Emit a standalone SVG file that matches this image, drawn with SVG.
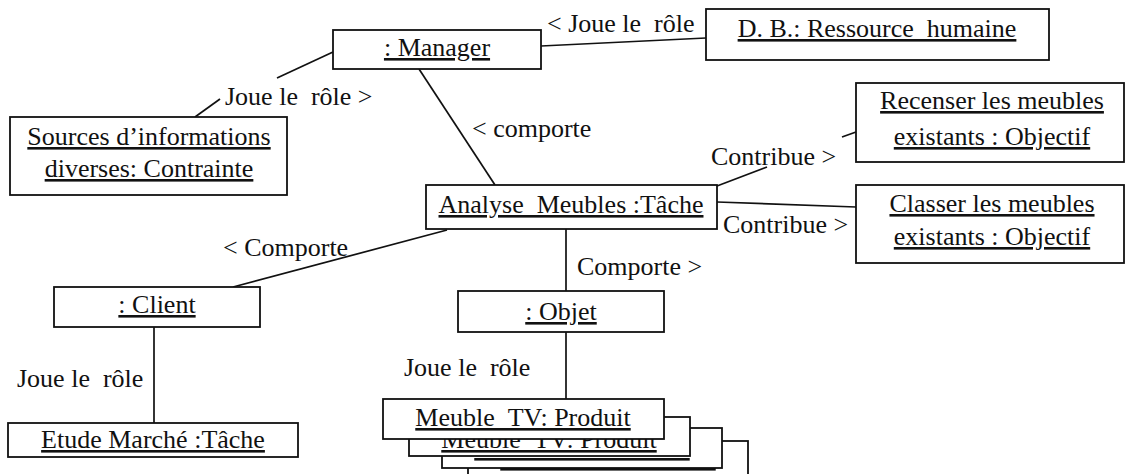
<svg xmlns="http://www.w3.org/2000/svg" width="1129" height="474" viewBox="0 0 1129 474">
<style>
  .box { fill: #fff; stroke: #111; stroke-width: 1.8; }
  .t { font-family: "Liberation Serif", "Times New Roman", serif; font-size: 26px; fill: #111; }
  .n { text-anchor: middle; text-decoration: underline; }
  .lbl { white-space: pre; }
  .c { stroke: #111; stroke-width: 1.7; fill: none; }
</style>
<rect width="1129" height="474" fill="#fff"/>
<g id="connectors">
  <line class="c" x1="333" y1="52" x2="277" y2="78"/>
  <line class="c" x1="220" y1="99" x2="195" y2="117"/>
  <line class="c" x1="541" y1="46" x2="706" y2="38"/>
  <line class="c" x1="419" y1="69" x2="495" y2="185"/>
  <line class="c" x1="717" y1="186" x2="767" y2="167"/>
  <line class="c" x1="842" y1="137" x2="856" y2="132"/>
  <line class="c" x1="717" y1="202" x2="856" y2="207"/>
  <line class="c" x1="447" y1="230" x2="233" y2="287"/>
  <line class="c" x1="566" y1="229" x2="566" y2="291"/>
  <line class="c" x1="566" y1="332" x2="566" y2="399"/>
  <line class="c" x1="154" y1="327" x2="154" y2="423"/>
</g>
<g id="labels" class="t lbl">
  <text x="547" y="32" class="t lbl">&lt; Joue le  rôle</text>
  <text x="225" y="105" class="t lbl">Joue le  rôle &gt;</text>
  <text x="472" y="137" class="t lbl">&lt; comporte</text>
  <text x="711" y="165" class="t lbl">Contribue &gt;</text>
  <text x="723" y="233" class="t lbl">Contribue &gt;</text>
  <text x="223" y="256" class="t lbl">&lt; Comporte</text>
  <text x="577" y="275" class="t lbl">Comporte &gt;</text>
  <text x="17" y="387" class="t lbl">Joue le  rôle</text>
  <text x="404" y="376" class="t lbl">Joue le  rôle</text>
</g>
<g id="manager">
  <rect class="box" x="333" y="30" width="208" height="39"/>
  <text class="t n" x="437" y="56">: Manager</text>
</g>
<g id="db">
  <rect class="box" x="706" y="9" width="343" height="51"/>
  <text class="t n" x="877" y="37">D. B.: Ressource_humaine</text>
</g>
<g id="sources">
  <rect class="box" x="10" y="117" width="277" height="78"/>
  <text class="t n" x="149" y="145">Sources d’informations</text>
  <text class="t n" x="149" y="177">diverses: Contrainte</text>
</g>
<g id="recenser">
  <rect class="box" x="856" y="83" width="268" height="79"/>
  <text class="t n" x="992" y="109">Recenser les meubles</text>
  <text class="t n" x="992" y="145">existants : Objectif</text>
</g>
<g id="classer">
  <rect class="box" x="856" y="185" width="268" height="78"/>
  <text class="t n" x="992" y="212">Classer les meubles</text>
  <text class="t n" x="992" y="245">existants : Objectif</text>
</g>
<g id="analyse">
  <rect class="box" x="426" y="185" width="291" height="44"/>
  <text class="t n" x="571" y="213">Analyse_Meubles :Tâche</text>
</g>
<g id="client">
  <rect class="box" x="54" y="287" width="206" height="40"/>
  <text class="t n" x="157" y="313">: Client</text>
</g>
<g id="objet">
  <rect class="box" x="458" y="291" width="206" height="41"/>
  <text class="t n" x="561" y="320">: Objet</text>
</g>
<g id="etude">
  <rect class="box" x="8" y="423" width="290" height="34"/>
  <text class="t n" x="153" y="448">Etude Marché :Tâche</text>
</g>
<g id="meuble-tv">
  <rect class="box" x="468" y="441" width="280" height="40"/>
  <text class="t n" x="608" y="466">Meuble_TV: Produit</text>
  <rect class="box" x="442" y="428" width="280" height="40"/>
  <text class="t n" x="582" y="456">Meuble_TV: Produit</text>
  <rect class="box" x="409" y="417" width="281" height="39"/>
  <text class="t n" x="549" y="448">Meuble_TV: Produit</text>
  <rect class="box" x="383" y="399" width="281" height="40"/>
  <text class="t n" x="523" y="426">Meuble_TV: Produit</text>
</g>
</svg>
